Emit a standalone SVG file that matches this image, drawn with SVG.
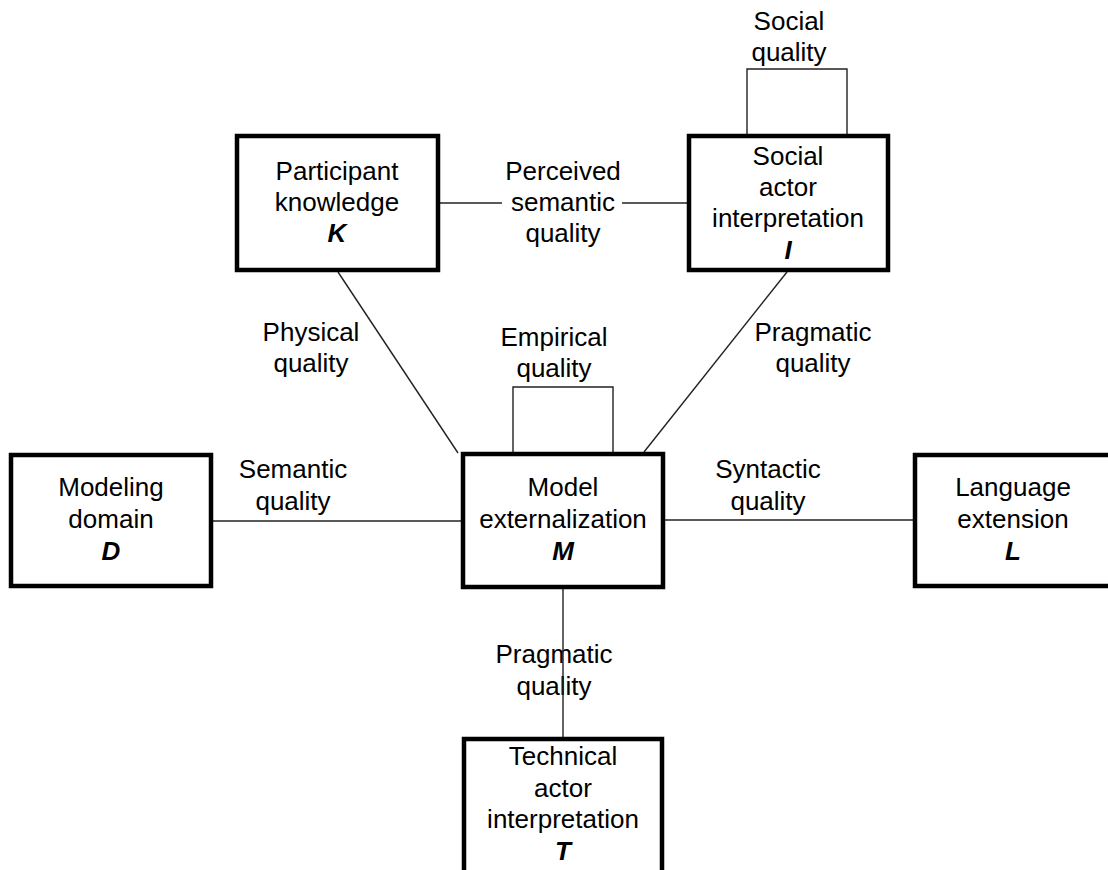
<svg xmlns="http://www.w3.org/2000/svg" width="1108" height="870" viewBox="0 0 1108 870">
<style>
text{font-family:"Liberation Sans",Arial,sans-serif;font-size:26px;fill:#000;text-anchor:middle}
.v{font-weight:bold;font-style:italic}
.box{fill:#fff;stroke:#000;stroke-width:4.5}
.c{fill:none;stroke:#222;stroke-width:1.4}
</style>
<rect width="1108" height="870" fill="#fff"/>
<g id="connectors">
<line class="c" x1="440" y1="203" x2="502" y2="203"/>
<line class="c" x1="622" y1="203" x2="687" y2="203"/>
<line class="c" x1="338" y1="272" x2="458" y2="453"/>
<line class="c" x1="787" y1="272" x2="644" y2="452"/>
<line class="c" x1="213" y1="521" x2="461" y2="521"/>
<line class="c" x1="665" y1="520" x2="913" y2="520"/>
<polyline class="c" points="747,134 747,69 847,69 847,134"/>
<polyline class="c" points="513,452 513,387 613,387 613,452"/>
<text x="563" y="180">Perceived</text>
<text x="563" y="211">semantic</text>
<text x="563" y="242">quality</text>
<text x="789" y="30">Social</text>
<text x="789" y="61">quality</text>
<text x="311" y="341">Physical</text>
<text x="311" y="372">quality</text>
<text x="813" y="341">Pragmatic</text>
<text x="813" y="372">quality</text>
<text x="554" y="346">Empirical</text>
<text x="554" y="377">quality</text>
<text x="293" y="478">Semantic</text>
<text x="293" y="510">quality</text>
<text x="768" y="478">Syntactic</text>
<text x="768" y="510">quality</text>
<text x="554" y="663">Pragmatic</text>
<text x="554" y="695">quality</text>
<line class="c" x1="563" y1="589" x2="563" y2="737"/>
</g>
<g id="node-K">
<rect class="box" x="237" y="136" width="201" height="134"/>
<text x="337" y="180">Participant</text>
<text x="337" y="211">knowledge</text>
<text class="v" x="337" y="242">K</text>
</g>
<g id="node-I">
<rect class="box" x="689" y="136" width="199" height="134"/>
<text x="788" y="165">Social</text>
<text x="788" y="196">actor</text>
<text x="788" y="227">interpretation</text>
<text class="v" x="788" y="259">I</text>
</g>
<g id="node-D">
<rect class="box" x="11" y="455" width="200" height="131"/>
<text x="111" y="496">Modeling</text>
<text x="111" y="528">domain</text>
<text class="v" x="111" y="560">D</text>
</g>
<g id="node-M">
<rect class="box" x="463" y="454" width="200" height="133"/>
<text x="563" y="496">Model</text>
<text x="563" y="528">externalization</text>
<text class="v" x="563" y="560">M</text>
</g>
<g id="node-L">
<rect class="box" x="915" y="455" width="200" height="131"/>
<text x="1013" y="496">Language</text>
<text x="1013" y="528">extension</text>
<text class="v" x="1013" y="560">L</text>
</g>
<g id="node-T">
<rect class="box" x="464" y="739" width="198" height="200"/>
<text x="563" y="765">Technical</text>
<text x="563" y="797">actor</text>
<text x="563" y="828">interpretation</text>
<text class="v" x="563" y="860">T</text>
</g>
</svg>
